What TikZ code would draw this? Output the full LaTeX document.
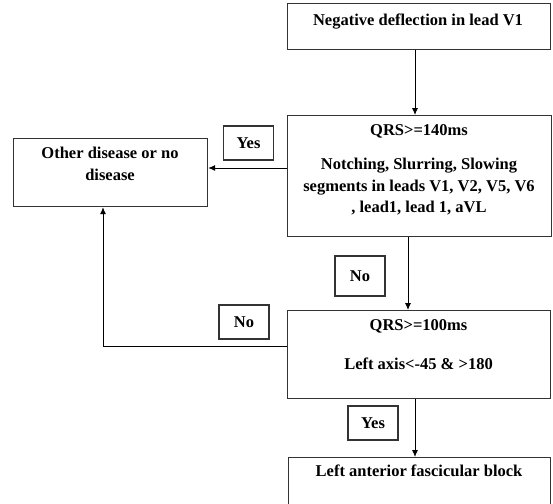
\documentclass[tikz,border=0pt]{standalone}
\usepackage{fontspec}
\setmainfont{Liberation Serif}
\usetikzlibrary{arrows.meta}
\begin{document}
\begin{tikzpicture}[x=1pt,y=-1pt,
  box/.style={draw=black!80,line width=1.2pt,rectangle,inner sep=0pt},
  tag/.style={draw=black!80,line width=1.1pt,rectangle,inner sep=0pt,minimum width=50pt,minimum height=34pt,font=\fontsize{16.5}{20}\selectfont\bfseries},
  txt/.style={inner sep=0pt,align=center,font=\fontsize{16.5}{21.5}\selectfont\bfseries},
  arr/.style={line width=0.9pt,-{Latex[length=7pt,width=6pt]}}]
\useasboundingbox (0,0) rectangle (553,503);
\clip (0,0) rectangle (553,503);
% boxes
\node[box,anchor=north west,minimum width=263pt,minimum height=46pt] (top) at (287,3) {};
\node[txt] (topt) at (418,22) {Negative deflection in lead V1};
\node[box,anchor=north west,minimum width=264pt,minimum height=121pt] (q1) at (287,115) {};
\node[txt] (q1a) at (419,131) {QRS>=140ms};
\node[txt,anchor=north] (q1b) at (419,158) {Notching, Slurring, Slowing\\segments in leads V1, V2, V5, V6\\, lead1, lead 1, aVL};
\node[box,anchor=north west,minimum width=194pt,minimum height=68pt] (oth) at (13,138) {};
\node[txt] (otht) at (110,164) {Other disease or no\\disease};
\node[box,anchor=north west,minimum width=263pt,minimum height=88pt] (q2) at (287,310) {};
\node[txt] (q2a) at (418.5,326) {QRS>=100ms};
\node[txt] (q2b) at (418.5,364) {Left axis<-45 \& >180};
\node[box,anchor=north west,minimum width=262pt,minimum height=80pt] (lafb) at (288,457) {};
\node[txt] (lafbt) at (419,471) {Left anterior fascicular block};
% tags
\node[tag] (yes1) at (248.5,143) {Yes};
\node[tag,minimum height=40pt] (no1) at (360,276) {No};
\node[tag] (no2) at (244,322) {No};
\node[tag] (yes2) at (373,423) {Yes};
% connectors
\draw[arr] (415,0 |- top.south) -- (415,0 |- q1.north);
\draw[arr] (q1.west |- 0,168) -- (oth.east |- 0,168);
\draw[arr] (408,0 |- q1.south) -- (408,0 |- q2.north);
\draw[arr] (q2.west |- 0,346) -- (103,346) -- (103,0 |- oth.south);
\draw[arr] (415,0 |- q2.south) -- (415,0 |- lafb.north);
\end{tikzpicture}
\end{document}
